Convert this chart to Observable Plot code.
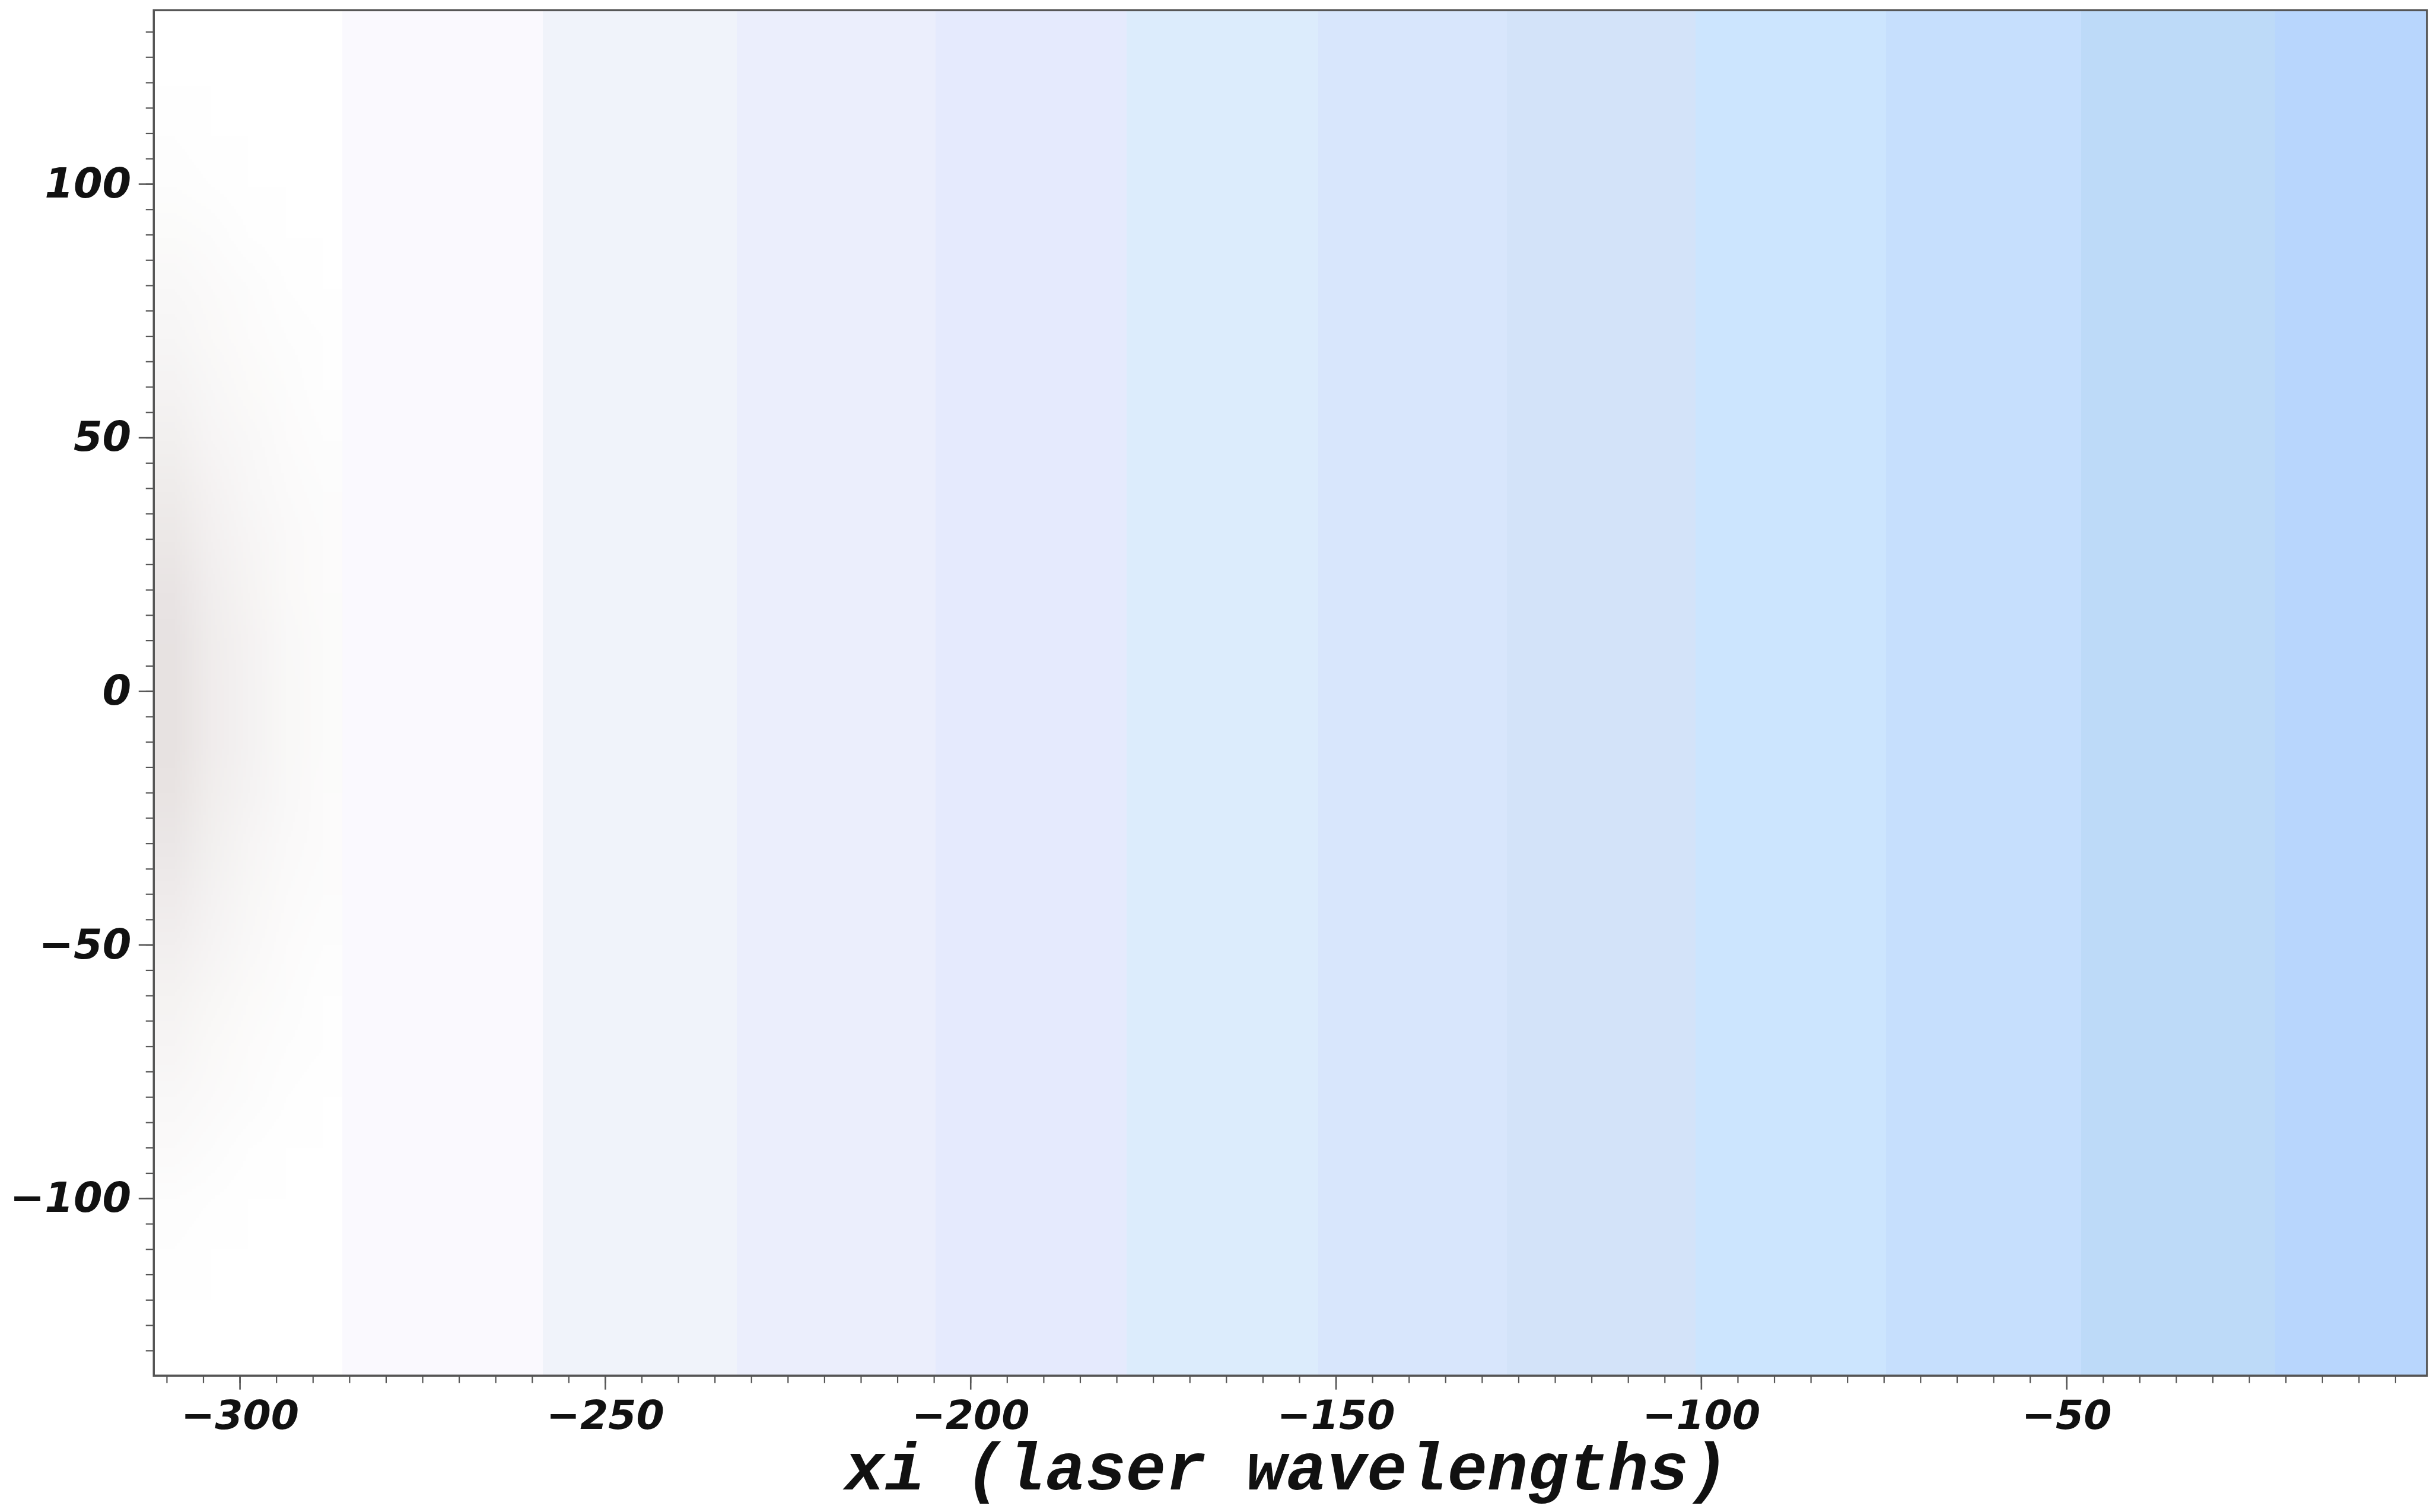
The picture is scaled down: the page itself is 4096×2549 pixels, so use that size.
<!DOCTYPE html>
<html>
<head>
<meta charset="utf-8">
<script src="https://cdn.jsdelivr.net/npm/d3@7"></script>
<script src="https://cdn.jsdelivr.net/npm/@observablehq/plot@0.6"></script>
<style>
html, body { margin: 0; padding: 0; background: #ffffff; overflow: hidden; }
</style>
</head>
<body>
<div id="chart"></div>
<script>
// ---- data ----
const xTitle = "xi (laser wavelengths)";
const xDomain = [-311.8, -0.7];
const yDomain = [-134.9, 134.3];
const xTickValues = [-300, -250, -200, -150, -100, -50];
const yTickValues = [-100, -50, 0, 50, 100];

// vertical bands of the field (edges in xi) and their level
const bandEdges = [-311.8, -286.0, -258.5, -232.0, -204.8, -178.6, -152.4, -126.6, -100.8, -74.7, -48.0, -21.4, -0.7];
const bandLevels = [0, 1, 2, 3, 4, 5, 6, 7, 8, 9, 10, 11];

// faint blob at the left edge: grid of (negative) levels, rows from y=130 down to y=-130 step 10
const blobXExtent = [-311.8, -286.0];
const blobYExtent = [135, -135];
const blobRows = [
  [0.00, 0.00, 0.00, 0.00, 0.00], // 130
  [0.00, 0.00, 0.00, 0.00, 0.00], // 120
  [0.02, 0.00, 0.00, 0.00, 0.00], // 110
  [0.06, 0.03, 0.01, 0.00, 0.00], // 100
  [0.13, 0.09, 0.04, 0.01, 0.00], // 90
  [0.20, 0.14, 0.09, 0.03, 0.00], // 80
  [0.27, 0.19, 0.12, 0.07, 0.02], // 70
  [0.35, 0.24, 0.16, 0.10, 0.04], // 60
  [0.45, 0.30, 0.20, 0.12, 0.07], // 50
  [0.56, 0.37, 0.24, 0.15, 0.09], // 40
  [0.68, 0.44, 0.29, 0.17, 0.11], // 30
  [0.78, 0.50, 0.33, 0.19, 0.12], // 20
  [0.84, 0.54, 0.37, 0.21, 0.13], // 10
  [0.85, 0.55, 0.38, 0.22, 0.13], // 0
  [0.85, 0.55, 0.38, 0.22, 0.13], // -10
  [0.80, 0.51, 0.34, 0.20, 0.12], // -20
  [0.70, 0.45, 0.30, 0.18, 0.11], // -30
  [0.58, 0.38, 0.25, 0.15, 0.09], // -40
  [0.46, 0.31, 0.20, 0.12, 0.07], // -50
  [0.36, 0.25, 0.16, 0.10, 0.04], // -60
  [0.28, 0.19, 0.12, 0.07, 0.02], // -70
  [0.20, 0.14, 0.09, 0.03, 0.00], // -80
  [0.14, 0.09, 0.04, 0.01, 0.00], // -90
  [0.07, 0.03, 0.01, 0.00, 0.00], // -100
  [0.02, 0.00, 0.00, 0.00, 0.00], // -110
  [0.00, 0.00, 0.00, 0.00, 0.00], // -120
  [0.00, 0.00, 0.00, 0.00, 0.00]  // -130
];

// colour scale stops (level -> colour)
const colorDomain = [-1, 0, 1, 2, 3, 4, 5, 6, 7, 8, 9, 10, 11];
const colorRange = ["#E3DDDC", "#FFFFFF", "#FAF9FE", "#F0F3FA", "#EBEEFC", "#E5EAFD", "#DCECFC",
                    "#D8E6FC", "#D3E3F9", "#CCE5FE", "#C6DFFD", "#BDDAF8", "#B8D6FD"];

// ---- layout ----
const S = 0.999;
const W = 4096, H = 2549;
const tickFont = "DejaVu Sans";
const titleFont = "Liberation Mono";

const bandIndex = d3.range(bandLevels.length);
const blobFlat = blobRows.flat();
const xMinorTicks = d3.range(-310, 0, 5);
const yMinorTicks = d3.range(-130, 131, 5);

const chart = Plot.plot({
  width: W,
  height: H,
  marginLeft: 259 * S,
  marginRight: W - 4094.5 * S,
  marginTop: 16.7 * S,
  marginBottom: H - 2321 * S,
  style: { background: "#ffffff" },
  x: { domain: xDomain, label: null },
  y: { domain: yDomain, label: null },
  color: { type: "linear", domain: colorDomain, range: colorRange, interpolate: "rgb" },
  marks: [
    Plot.rect(bandIndex, {
      x1: (i) => bandEdges[i],
      x2: (i) => bandEdges[i + 1],
      fill: (i) => bandLevels[i],
      inset: 0,
      shapeRendering: "crispEdges"
    }),
    Plot.raster(blobFlat, {
      width: blobRows[0].length,
      height: blobRows.length,
      x1: blobXExtent[0], x2: blobXExtent[1],
      y1: blobYExtent[0], y2: blobYExtent[1],
      fill: (d) => -d,
      clip: true
    }),
    Plot.axisX(xMinorTicks, {
      tickSize: 13 * S, tickFormat: () => "", stroke: "#555", strokeWidth: 2.2 * S, label: null
    }),
    Plot.axisX(xTickValues, {
      tickSize: 24 * S, tickPadding: 18 * S, stroke: "#555", strokeWidth: 2.6 * S,
      color: "#111", fontFamily: tickFont, fontSize: 68 * S, fontWeight: "bold", fontStyle: "italic",
      label: null
    }),
    Plot.axisY(yMinorTicks, {
      tickSize: 13 * S, tickFormat: () => "", stroke: "#555", strokeWidth: 2.2 * S, label: null
    }),
    Plot.axisY(yTickValues, {
      tickSize: 25 * S, tickPadding: 13 * S, stroke: "#555", strokeWidth: 2.6 * S,
      color: "#111", fontFamily: tickFont, fontSize: 70 * S, fontWeight: "bold", fontStyle: "italic",
      label: null
    }),
    Plot.frame({ stroke: "#555", strokeWidth: 3.5 * S })
  ]
});

// x-axis title
const xr = chart.scale("x").range;
d3.select(chart).append("text")
  .attr("x", (xr[0] + xr[1]) / 2 - 6 * S)
  .attr("y", 2514 * S)
  .attr("text-anchor", "middle")
  .attr("font-family", titleFont)
  .attr("font-weight", "bold")
  .attr("font-style", "italic")
  .attr("font-size", 113 * S)
  .attr("fill", "#111")
  .text(xTitle);

document.getElementById("chart").appendChild(chart);
</script>
</body>
</html>
